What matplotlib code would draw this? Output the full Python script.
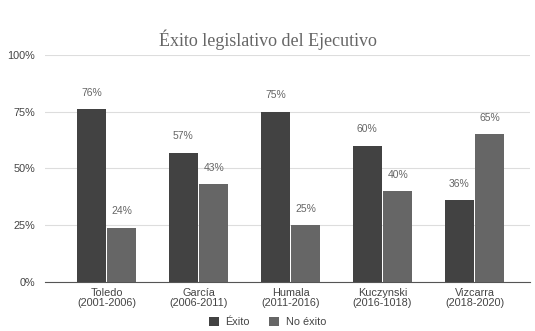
import numpy as np
import matplotlib.pyplot as plt
from matplotlib.ticker import PercentFormatter

# datos
presidentes = ["Toledo\n(2001-2006)", "García\n(2006-2011)", "Humala\n(2011-2016)",
               "Kuczynski\n(2016-1018)", "Vizcarra\n(2018-2020)"]
exito = [76, 57, 75, 60, 36]
no_exito = [24, 43, 25, 40, 65]

plt.rcParams['font.family'] = ['Liberation Sans', 'DejaVu Sans']

fig = plt.figure(figsize=(5.35, 3.31), dpi=100)
ax = fig.add_axes([0.084, 0.148, 0.906, 0.686])

x = np.arange(len(presidentes))
w = 0.31
b1 = ax.bar(x - w / 2 - 0.01, exito, w, color='#424242', label='Éxito', zorder=3)
b2 = ax.bar(x + w / 2 + 0.01, no_exito, w, color='#666666', label='No éxito', zorder=3)

for bars, vals in ((b1, exito), (b2, no_exito)):
    for r, v in zip(bars, vals):
        ax.annotate(f'{v}%', (r.get_x() + r.get_width() / 2, v), xytext=(0, 12),
                    textcoords='offset points', ha='center', va='center',
                    fontsize=7.5, color='#666666')

ax.set_ylim(0, 100)
ax.set_xlim(-0.67, 4.6)
ax.set_yticks([0, 25, 50, 75, 100])
ax.yaxis.set_major_formatter(PercentFormatter(decimals=0))
ax.set_xticks(x)
ax.set_xticklabels(presidentes, fontsize=7.8, color='#444444', linespacing=1.0)
ax.tick_params(axis='y', labelsize=7.8, labelcolor='#444444', length=0, pad=7)
ax.tick_params(axis='x', length=0, pad=4)
ax.grid(axis='y', color='#dddddd', linewidth=0.8, zorder=0)
for s in ['top', 'right', 'left']:
    ax.spines[s].set_visible(False)
ax.spines['bottom'].set_color('#555555')

fig.suptitle('Éxito legislativo del Ejecutivo', y=0.91, fontsize=13,
             family=['Liberation Serif', 'DejaVu Serif'], color='#666666')
fig.legend(loc='lower center', bbox_to_anchor=(0.5, -0.018), ncol=2, frameon=False,
           fontsize=7.8, handlelength=0.9, handleheight=0.9, columnspacing=1.8,
           handletextpad=0.6, labelcolor='#444444')

plt.savefig('out.png', dpi=100)
